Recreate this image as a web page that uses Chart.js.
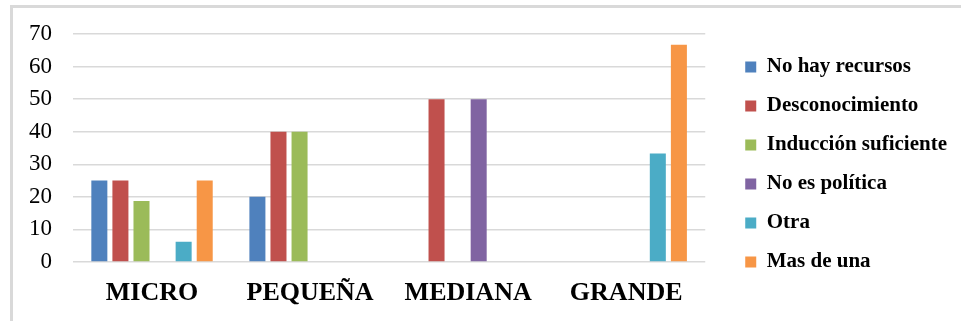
<!DOCTYPE html>
<html>
<head>
<meta charset="utf-8">
<script src="https://cdn.jsdelivr.net/npm/chart.js@4.4.0/dist/chart.umd.min.js"></script>
<style>
  html, body { margin: 0; padding: 0; background: #fff; }
  #wrap { position: relative; width: 961px; height: 321px; overflow: hidden; }
  #frame { position: absolute; left: 10px; top: 5px; width: 1000px; height: 400px; border: 3px solid #d9d9d9; }
  #chart { position: absolute; left: 0; top: 0; }
</style>
</head>
<body>
<div id="wrap">
  <div id="frame"></div>
  <canvas id="chart" width="961" height="321"></canvas>
</div>
<script>
// categories (company size)
const categories = ['MICRO', 'PEQUEÑA', 'MEDIANA', 'GRANDE']

// series values (percent)
const noHayRecursos = [25, 20, 0, 0]
const desconocimiento = [25, 40, 50, 0]
const induccionSuficiente = [18.75, 40, 0, 0]
const noEsPolitica = [0, 0, 50, 0]
const otra = [6.25, 0, 0, 33.33]
const masDeUna = [25, 0, 0, 66.67]

const seriesNames = ['No hay recursos', 'Desconocimiento', 'Inducción suficiente', 'No es política', 'Otra', 'Mas de una']
const seriesData = [noHayRecursos, desconocimiento, induccionSuficiente, noEsPolitica, otra, masDeUna]
// office 2007 palette
const seriesColors = ['#4F81BD', '#C0504D', '#9BBB59', '#8064A2', '#4BACC6', '#F79646']

const yTicks = [0, 10, 20, 30, 40, 50, 60, 70]

const serif = '"Liberation Serif", "Times New Roman", serif'

const config = {
  type: 'bar',
  data: {
    labels: categories,
    datasets: seriesNames.map((name, i) => ({
      label: name,
      data: seriesData[i],
      backgroundColor: seriesColors[i],
      categoryPercentage: 0.8,
      barPercentage: 0.76,
    })),
  },
  options: {
    responsive: false,
    animation: false,
    layout: {
      padding: { left: 0, top: 8, right: 4, bottom: 0 },
    },
    plugins: {
      legend: {
        position: 'right',
        maxWidth: 320,
        labels: {
          boxWidth: 11,
          boxHeight: 11,
          padding: 18,
          color: '#000',
          font: { family: serif, size: 21, weight: 'bold' },
        },
      },
      tooltip: { enabled: false },
    },
    scales: {
      x: {
        grid: { display: false, drawTicks: false },
        border: { display: false },
        ticks: {
          color: '#000',
          padding: 16,
          font: { family: serif, size: 26, weight: 'bold' },
        },
        afterFit: (s) => { s.height = 59 },
      },
      y: {
        min: 0,
        max: yTicks[yTicks.length - 1],
        afterBuildTicks: (axis) => { axis.ticks = yTicks.map(v => ({ value: v })) },
        grid: { color: '#d9d9d9', lineWidth: 1.5, drawTicks: false },
        border: { display: false },
        ticks: {
          color: '#000',
          padding: 21,
          font: { family: serif, size: 23 },
        },
        afterFit: (s) => { s.width = 73; s.paddingTop = 34 },
      },
      // empty axis, only keeps a gap between plot and legend
      gap: {
        position: 'right',
        display: true,
        grid: { display: false, drawTicks: false },
        border: { display: false },
        ticks: { display: false },
        afterFit: (s) => { s.width = 22 },
      },
    },
  },
}

const ctx = document.getElementById('chart')
window.myBar = new Chart(ctx, config)
</script>
</body>
</html>
